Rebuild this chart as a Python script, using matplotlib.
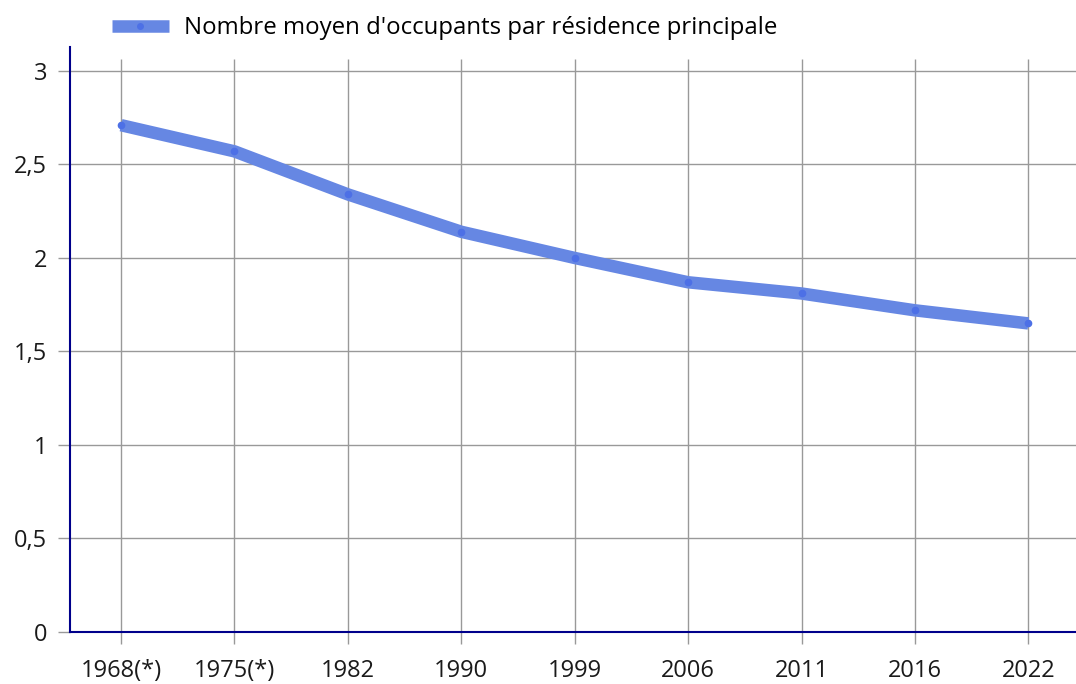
import matplotlib
matplotlib.use("Agg")
import matplotlib.pyplot as plt
from matplotlib.ticker import FuncFormatter
from matplotlib.lines import Line2D

# données
annees = ["1968(*)", "1975(*)", "1982", "1990", "1999", "2006", "2011", "2016", "2022"]
occupants = [2.71, 2.57, 2.34, 2.14, 2.00, 1.87, 1.81, 1.72, 1.65]
graduations_y = [0, 0.5, 1, 1.5, 2, 2.5, 3]
libelle = "Nombre moyen d'occupants par résidence principale"

plt.rcParams["font.family"] = ["Open Sans", "DejaVu Sans"]
plt.rcParams["font.size"] = 17

couleur_ligne = "#6687e3"
couleur_point = "#4d70e6"
couleur_axe = "#00008b"
couleur_grille = "#999999"

fig = plt.figure(figsize=(10.76, 6.84), dpi=100)
ax = fig.add_axes([70 / 1076, 52 / 684, 1 - 70 / 1076, 585 / 684])

x = list(range(len(annees)))
ax.plot(x, occupants, color=couleur_ligne, linewidth=9, solid_capstyle="butt", zorder=3)
ax.plot(x, occupants, linestyle="none", marker="o", markersize=4.5,
        color=couleur_point, zorder=4)

ax.set_xlim(-0.45, 8.42)
ax.set_ylim(0, 3.128)

# grille
ax.set_yticks(graduations_y)
ax.yaxis.grid(True, color=couleur_grille, linewidth=1)
ax.vlines(x, 0, 3.066, color=couleur_grille, linewidth=1, zorder=1)
ax.set_axisbelow(True)

ax.set_xticks(x)
ax.set_xticklabels(annees)
ax.yaxis.set_major_formatter(FuncFormatter(lambda v, p: f"{v:g}".replace(".", ",")))
ax.tick_params(axis="both", length=8.6, width=1, color=couleur_grille,
               labelsize=17, labelcolor="#1a1a1a")
ax.tick_params(axis="x", pad=11)
ax.tick_params(axis="y", pad=8)

for cote in ["top", "right"]:
    ax.spines[cote].set_visible(False)
for cote in ["left", "bottom"]:
    ax.spines[cote].set_color(couleur_axe)
    ax.spines[cote].set_linewidth(1.5)

poignee = Line2D([], [], color=couleur_ligne, linewidth=9, marker="o", solid_capstyle="butt",
                 markersize=4, markerfacecolor=couleur_point, markeredgecolor=couleur_point)
fig.legend([poignee], [libelle], loc="center left", bbox_to_anchor=(90 / 1076, 1 - 28 / 684),
           frameon=False, fontsize=17.3, handlelength=2.4, handletextpad=0.62)

fig.savefig("out.png", dpi=100)
